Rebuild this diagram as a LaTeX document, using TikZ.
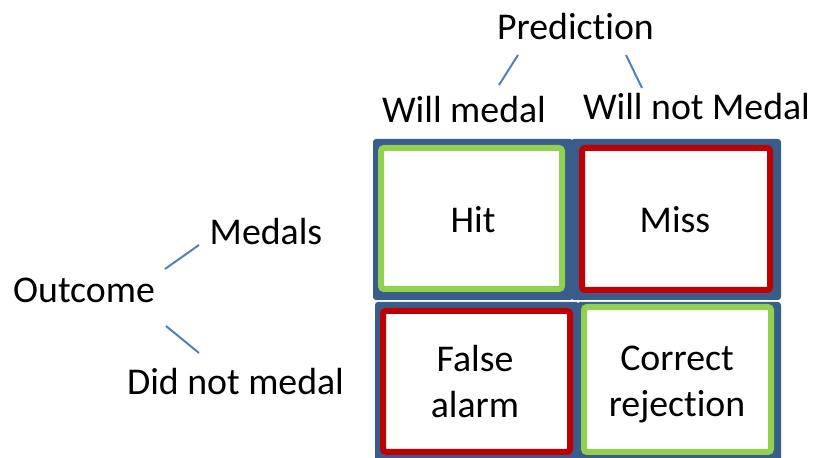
\documentclass[tikz,border=0pt]{standalone}
\usepackage{fontspec}
\setmainfont{Carlito}[Ligatures=NoCommon]
\definecolor{cellblue}{HTML}{385D8A}
\definecolor{goodgreen}{HTML}{92D050}
\definecolor{badred}{HTML}{C00000}
\definecolor{linkblue}{HTML}{4F81BD}
\begin{document}
\begin{tikzpicture}[x=0.5pt,y=-0.5pt,
  lbl/.style={inner sep=0pt, anchor=base, font=\fontsize{18.9pt}{23pt}\selectfont, align=center},
  cellbg/.style={fill=cellblue, rounded corners=1.5pt},
  greenbox/.style={draw=goodgreen, line width=3pt, fill=white, rounded corners=1.5pt, inner sep=0pt, outer sep=0pt},
  redbox/.style={draw=badred, line width=3pt, fill=white, rounded corners=1.5pt, inner sep=0pt, outer sep=0pt},
  link/.style={draw=linkblue, line width=1pt}]
\useasboundingbox (0,0) rectangle (816,458);
% blue cell backgrounds
\fill[cellbg] (373,139) rectangle (573,300);
\fill[cellbg] (571,139) rectangle (781,300);
\fill[cellbg] (375,302) rectangle (579,470);
\fill[cellbg] (577,302) rectangle (781,470);
% inner boxes
\node[greenbox, minimum width=90.5pt, minimum height=70.5pt] (hitbox) at (471.5,218.5) {};
\node[redbox, minimum width=94pt, minimum height=71pt] (missbox) at (676,219) {};
\node[redbox, minimum width=93.5pt, minimum height=70.5pt] (fabox) at (476.5,381.5) {};
\node[greenbox, minimum width=93.5pt, minimum height=72.5pt] (crbox) at (677.5,379.5) {};
% cell texts
\node[lbl] (hit) at (473,233) {Hit};
\node[lbl] (miss) at (675,233) {Miss};
\node[lbl] (falsealarm) at (475,418) {False\\alarm};
\node[lbl] (correctrej) at (677,417) {Correct\\rejection};
% headings
\node[lbl] (prediction) at (575.5,40) {Prediction};
\node[lbl] (willmedal) at (464,123) {Will medal};
\node[lbl] (willnot) at (696.5,120) {Will not Medal};
\node[lbl] (medals) at (266,245) {Medals};
\node[lbl] (outcome) at (84,303) {Outcome};
\node[lbl] (didnot) at (235.5,395) {Did not medal};
% connector end points
\coordinate (pl1) at (518,55); \coordinate (pl2) at (499,85);
\coordinate (pr1) at (626,55); \coordinate (pr2) at (642,88);
\coordinate (ou1) at (165,269); \coordinate (ou2) at (199,245);
\coordinate (od1) at (166,326); \coordinate (od2) at (199,353);
\draw[link] (pl1) -- (pl2);
\draw[link] (pr1) -- (pr2);
\draw[link] (ou1) -- (ou2);
\draw[link] (od1) -- (od2);
\end{tikzpicture}
\end{document}
